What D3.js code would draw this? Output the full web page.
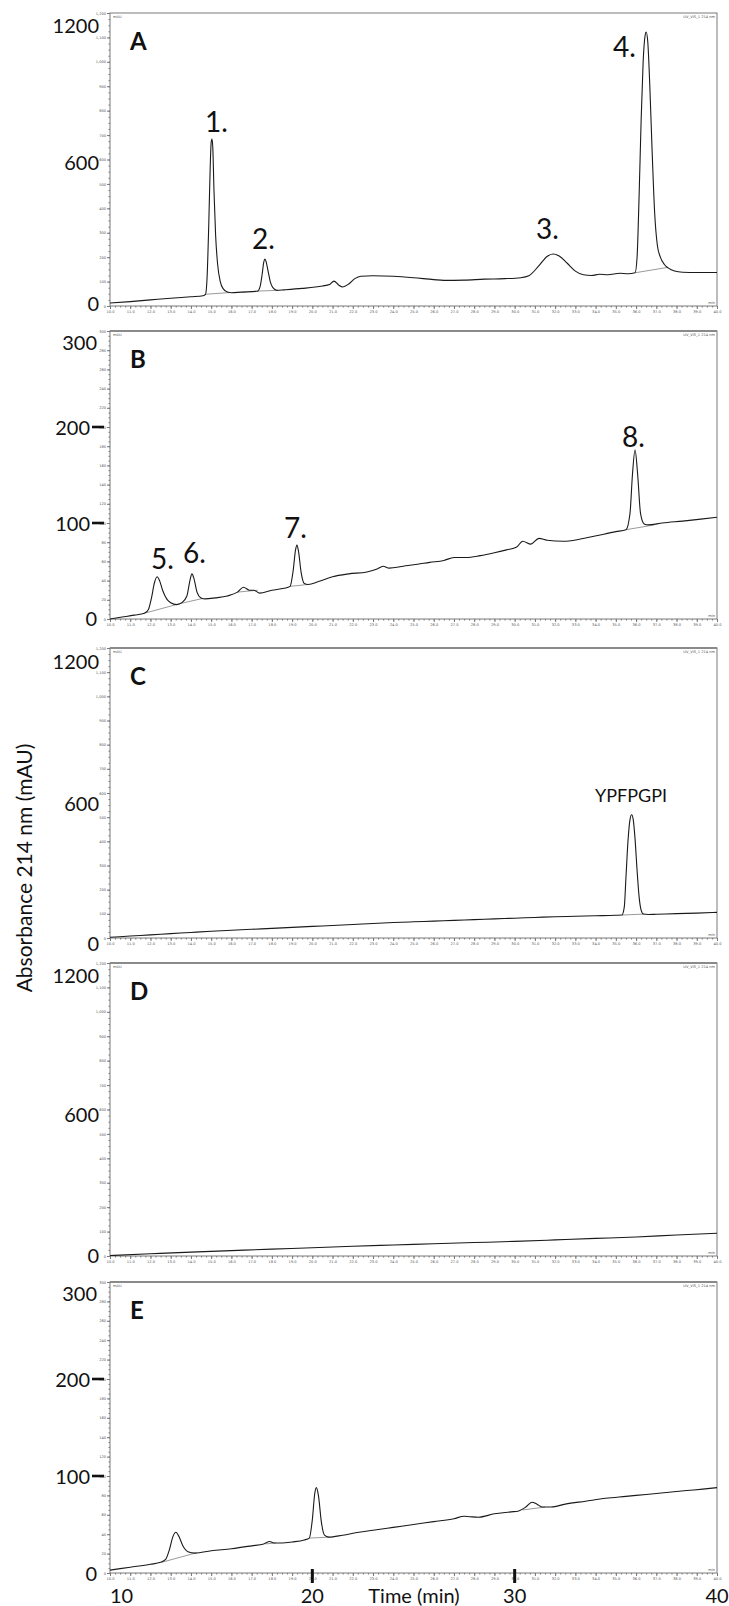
<!DOCTYPE html>
<html>
<head>
<meta charset="utf-8">
<script src="https://cdn.jsdelivr.net/npm/d3@7/dist/d3.min.js"></script>
<style>
  body { margin: 0; background: #fff; }
  svg { display: block; }
  .big { font-family: Lato, "Open Sans", sans-serif; font-size: 20px; fill: #111; }
  .peak { font-family: Lato, "Open Sans", sans-serif; font-size: 28px; fill: #111; }
  .letter { font-family: Lato, "Open Sans", sans-serif; font-size: 24px; font-weight: bold; fill: #111; }
  .tiny text { font-family: "DejaVu Sans", sans-serif; font-size: 3.6px; fill: #555; }
  .tiny path, .tiny line { stroke: #777; }
</style>
</head>
<body>
<div id="chart"></div>
<script>
// ---- data: [time (min), absorbance (mAU)] ----
const traceA = [
  [10.0, 12], [11.0, 18], [12.0, 25], [13.0, 32], [14.0, 38], [14.6, 42], [14.72, 48],
  [14.8, 120], [14.88, 330], [14.95, 560], [15.0, 670], [15.04, 684], [15.08, 650],
  [15.14, 470], [15.22, 290], [15.32, 170], [15.45, 100], [15.6, 70], [15.8, 57], [16.0, 54],
  [16.5, 57], [17.2, 60], [17.3, 61], [17.42, 80], [17.52, 130], [17.6, 180], [17.66, 192],
  [17.72, 180], [17.82, 140], [17.92, 100], [18.05, 75], [18.25, 64], [18.6, 66], [19.5, 72],
  [20.5, 82], [20.85, 88], [21.07, 102], [21.3, 86], [21.5, 78], [21.8, 90], [22.1, 112],
  [22.4, 122], [23.0, 124], [24.0, 122], [25.0, 116], [26.0, 108], [26.5, 105], [27.5, 106],
  [28.5, 110], [29.5, 112], [30.3, 116], [30.7, 124], [31.2, 165], [31.6, 203], [31.9, 213],
  [32.2, 205], [32.6, 175], [33.0, 143], [33.4, 128], [33.8, 125], [34.2, 130], [34.6, 128],
  [35.2, 134], [35.6, 132], [35.95, 136], [36.05, 200], [36.15, 450], [36.25, 760],
  [36.35, 1000], [36.45, 1110], [36.5, 1122], [36.58, 1080], [36.68, 900], [36.8, 620],
  [36.92, 380], [37.05, 250], [37.2, 200], [37.4, 170], [37.6, 155], [37.9, 143], [38.3, 138],
  [39.0, 137], [40.0, 137]
];
const traceB = [
  [10.0, 0], [10.6, 2], [11.2, 4], [11.7, 6], [11.9, 10], [12.05, 22], [12.2, 38], [12.33, 44],
  [12.45, 40], [12.6, 30], [12.8, 21], [13.0, 17], [13.3, 15], [13.55, 17], [13.8, 24],
  [13.95, 40], [14.05, 47], [14.15, 42], [14.3, 28], [14.5, 22], [14.7, 21], [15.2, 22],
  [15.8, 24], [16.3, 28], [16.6, 33], [16.9, 30], [17.1, 30], [17.4, 27], [18.0, 30],
  [18.6, 32], [18.9, 34], [19.05, 50], [19.17, 72], [19.24, 77], [19.32, 70], [19.45, 48],
  [19.6, 37], [19.8, 36], [20.3, 39], [21.0, 44], [21.8, 47], [22.7, 49], [23.2, 52],
  [23.5, 55], [23.8, 53], [24.5, 55], [25.2, 57], [25.8, 59], [26.5, 61], [27.0, 64],
  [27.6, 64], [28.3, 66], [29.0, 69], [29.6, 72], [30.1, 75], [30.4, 81], [30.8, 78],
  [31.2, 84], [31.6, 82], [32.4, 81], [33.2, 83], [34.1, 87], [35.0, 91], [35.5, 93],
  [35.7, 110], [35.82, 150], [35.95, 176], [36.08, 150], [36.22, 110], [36.4, 99], [36.6, 98],
  [37.3, 100], [38.3, 102], [39.2, 104], [40.0, 106]
];
const traceC = [
  [10.0, 3], [11.0, 8], [12.0, 13], [13.0, 18], [14.0, 23], [15.0, 28], [16.0, 32], [17.0, 36],
  [18.0, 40], [19.0, 44], [20.0, 48], [21.0, 52], [22.0, 56], [23.0, 60], [24.0, 64],
  [25.0, 67], [26.0, 70], [27.0, 73], [28.0, 76], [29.0, 79], [30.0, 82], [31.0, 85],
  [32.0, 88], [33.0, 90], [34.0, 92], [35.0, 94], [35.3, 95], [35.42, 130], [35.5, 250],
  [35.6, 400], [35.7, 490], [35.78, 510], [35.86, 490], [35.95, 410], [36.05, 280],
  [36.15, 170], [36.25, 115], [36.36, 99], [36.6, 97], [37.0, 98], [38.0, 101], [39.0, 103],
  [40.0, 106]
];
const traceD = [
  [10.0, 2], [12.0, 9], [14.0, 16], [16.0, 22], [18.0, 28], [20.0, 34], [22.0, 40], [24.0, 45],
  [26.0, 50], [28.0, 55], [30.0, 60], [32.0, 66], [34.0, 72], [36.0, 78], [38.0, 86], [40.0, 93]
];
const traceE = [
  [10.0, 3], [11.0, 6], [12.0, 9], [12.5, 11], [12.75, 14], [12.95, 25], [13.1, 37], [13.26, 42],
  [13.4, 38], [13.6, 28], [13.85, 22], [14.2, 20.5], [15.0, 23], [16.0, 25], [17.0, 28],
  [17.6, 30], [17.9, 32.5], [18.1, 31], [18.5, 31], [19.0, 32], [19.6, 34], [19.85, 36],
  [20.0, 55], [20.12, 82], [20.2, 88], [20.3, 80], [20.45, 52], [20.6, 39], [20.8, 37],
  [21.5, 39], [22.3, 42], [23.0, 44], [24.0, 47], [25.0, 50], [26.0, 53], [27.0, 56],
  [27.5, 58.5], [27.8, 58], [28.2, 57.5], [29.0, 61], [29.8, 63], [30.2, 64], [30.55, 68],
  [30.85, 73], [31.1, 71], [31.35, 68], [31.8, 68], [32.5, 71], [33.5, 74], [34.5, 77],
  [35.5, 79], [36.5, 81], [37.5, 83], [38.5, 85], [39.3, 86.5], [40.0, 88]
];

// integration baselines (grey segments under the peaks)
const basesA = [[[14.72, 48], [15.9, 55]], [[17.3, 61], [18.25, 64]], [[35.95, 136], [37.55, 158]]];
const basesB = [[[11.7, 6], [13.45, 16], [14.6, 21.5]], [[16.3, 28], [17.3, 30]],
                [[18.9, 34], [19.8, 36]], [[35.5, 93], [36.9, 98]]];
const basesC = [[[35.3, 95], [36.4, 99]]];
const basesD = [];
const basesE = [[[12.55, 11], [14.3, 21]], [[17.7, 30], [18.2, 31]], [[19.85, 36], [20.85, 37]],
                [[30.4, 65], [31.5, 68]]];

// peak annotations [text, time, mAU] (text start / baseline)
const labelsA = [["1.", 14.70, 712], ["2.", 17.02, 233], ["3.", 31.05, 274], ["4.", 34.86, 1020]];
const labelsB = [["5.", 12.03, 52], ["6.", 13.61, 58], ["7.", 18.60, 84], ["8.", 35.30, 179]];
const labelsC = [["YPFPGPI", 33.97, 563]];

const panelNames = ["A", "B", "C", "D", "E"];
const panelMax = [1200, 300, 1200, 1200, 300];
const bigTicksWide = [1200, 600, 0];
const bigTicksNarrow = [300, 200, 100, 0];
const dashTicks = [200, 100];
const timeLabels = [10, 20, 30, 40];

// ---- layout (pixels) ----
const W = 729, H = 1606, X0 = 110, X1 = 717;
const layout = {
  A: { top: 13,   bottom: 306,  nudge: [12, 2, -3] },
  B: { top: 331,  bottom: 619,  nudge: [11, 0, 0, -1] },
  C: { top: 648,  bottom: 938,  nudge: [13, 10, 5] },
  D: { top: 963,  bottom: 1256, nudge: [12, 4, -1] },
  E: { top: 1282, bottom: 1573, nudge: [11, 0, 0, 0] }
};

const traces = { A: traceA, B: traceB, C: traceC, D: traceD, E: traceE };
const bases = { A: basesA, B: basesB, C: basesC, D: basesD, E: basesE };
const labels = { A: labelsA, B: labelsB, C: labelsC, D: [], E: [] };

const svg = d3.select("#chart").append("svg")
  .attr("width", W)
  .attr("height", H);

const x = d3.scaleLinear().domain([10, 40]).range([X0, X1]);

panelNames.forEach((id, i) => drawPanel(id, panelMax[i]));
drawFigureLabels();

function drawPanel(id, yMax) {
  const L = layout[id];
  const y = d3.scaleLinear().domain([0, yMax]).range([L.bottom, L.top]);
  const g = svg.append("g").attr("class", "panel-" + id);
  const small = yMax <= 300;

  // frame
  g.append("rect")
    .attr("x", X0).attr("y", L.top)
    .attr("width", X1 - X0).attr("height", L.bottom - L.top)
    .attr("fill", "none").attr("stroke", "#7a7a7a").attr("stroke-width", 1);
  if (id !== "A") {
    g.append("line")
      .attr("x1", X0).attr("x2", X1).attr("y1", L.top).attr("y2", L.top)
      .attr("stroke", "#8a8a8a").attr("stroke-width", 2.2);
  }

  // tiny instrument axes
  const fmt = d3.format(",");
  const labStep = small ? 20 : 100;
  const minStep = small ? 5 : 25;

  g.append("g").attr("class", "tiny")
    .attr("transform", `translate(${X0},0)`)
    .call(d3.axisLeft(y).tickValues(d3.range(0, yMax + 1, minStep)).tickSize(1.5).tickFormat(""))
    .call(a => a.select(".domain").remove());
  g.append("g").attr("class", "tiny")
    .attr("transform", `translate(${X0},0)`)
    .call(d3.axisLeft(y).tickValues(d3.range(0, yMax + 1, labStep)).tickSize(3).tickPadding(1).tickFormat(fmt))
    .call(a => a.select(".domain").remove());

  g.append("g").attr("class", "tiny")
    .attr("transform", `translate(0,${L.bottom})`)
    .call(d3.axisBottom(x).tickValues(d3.range(10, 40.01, 0.25)).tickSize(1.5).tickFormat(""))
    .call(a => a.select(".domain").remove());
  g.append("g").attr("class", "tiny")
    .attr("transform", `translate(0,${L.bottom})`)
    .call(d3.axisBottom(x).tickValues(d3.range(10, 41, 1)).tickSize(3).tickPadding(1).tickFormat(d3.format(".1f")))
    .call(a => a.select(".domain").remove());

  const tinyText = g.append("g").attr("class", "tiny");
  tinyText.append("text").attr("x", X0 + 3).attr("y", L.top + 5).text("mAU");
  tinyText.append("text").attr("x", X1 - 2).attr("y", L.top + 5).attr("text-anchor", "end").text("UV_VIS_1 214 nm");
  tinyText.append("text").attr("x", X1 - 2).attr("y", L.bottom - 2).attr("text-anchor", "end").text("min");

  // big tick labels
  const bigTicks = small ? bigTicksNarrow : bigTicksWide;
  g.selectAll("text.big").data(bigTicks).enter().append("text")
    .attr("class", "big")
    .attr("x", d => (small && dashTicks.includes(d)) ? 90 : (small ? 97 : 99))
    .attr("y", (d, k) => y(d) + L.nudge[k])
    .attr("text-anchor", "end")
    .attr("dominant-baseline", "central")
    .text(d => d);
  if (small) {
    g.selectAll("line.dash").data(dashTicks).enter().append("line")
      .attr("class", "dash")
      .attr("x1", 92).attr("x2", 104)
      .attr("y1", d => y(d)).attr("y2", d => y(d))
      .attr("stroke", "#111").attr("stroke-width", 2.6);
  }

  // chromatogram
  const line = d3.line()
    .x(d => x(d[0]))
    .y(d => y(d[1]))
    .curve(d3.curveMonotoneX);

  g.selectAll("path.base").data(bases[id]).enter().append("path")
    .attr("class", "base")
    .attr("d", d3.line().x(d => x(d[0])).y(d => y(d[1])))
    .attr("fill", "none").attr("stroke", "#9a9a9a").attr("stroke-width", 1);

  g.append("path")
    .datum(traces[id])
    .attr("d", line)
    .attr("fill", "none")
    .attr("stroke", "#1a1a1a")
    .attr("stroke-width", 1.1);

  // panel letter + peak names
  g.append("text").attr("class", "letter")
    .attr("x", 130).attr("y", L.top + 37).text(id);

  g.selectAll("text.peak").data(labels[id]).enter().append("text")
    .attr("class", "peak")
    .style("font-size", d => d[0].length > 2 ? "18px" : null)
    .attr("x", d => x(d[1]))
    .attr("y", d => y(d[2]))
    .text(d => d[0]);
}

function drawFigureLabels() {
  const E = layout.E;
  // bold major ticks on the shared time axis
  svg.selectAll("line.major").data([20, 30]).enter().append("line")
    .attr("x1", d => x(d)).attr("x2", d => x(d))
    .attr("y1", E.bottom - 4).attr("y2", E.bottom + 10)
    .attr("stroke", "#111").attr("stroke-width", 3);

  svg.selectAll("text.time").data(timeLabels).enter().append("text")
    .attr("class", "big")
    .attr("x", d => x(d))
    .attr("y", 1595)
    .attr("dominant-baseline", "central")
    .attr("text-anchor", d => d === 10 ? "start" : "middle")
    .text(d => d);

  svg.append("text").attr("class", "big")
    .attr("x", 414).attr("y", 1595)
    .attr("dominant-baseline", "central")
    .attr("text-anchor", "middle")
    .text("Time (min)");

  svg.append("text").attr("class", "big")
    .attr("transform", "translate(23,868) rotate(-90)")
    .attr("text-anchor", "middle")
    .attr("dominant-baseline", "central")
    .style("font-size", "21px")
    .text("Absorbance 214 nm (mAU)");
}
</script>
</body>
</html>
